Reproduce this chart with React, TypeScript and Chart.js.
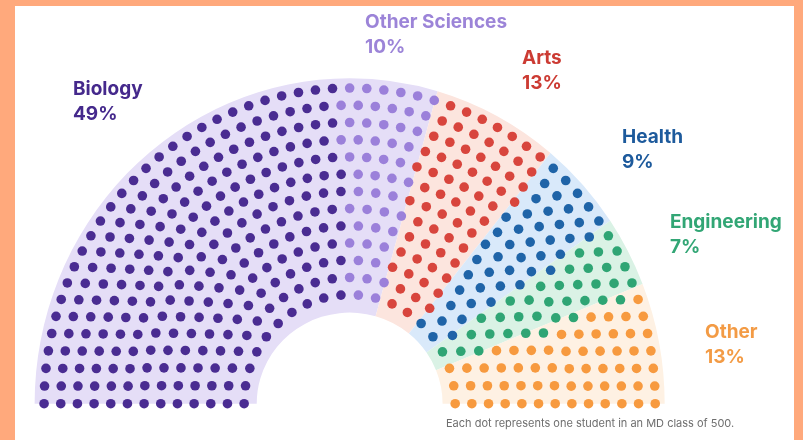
import React, { useEffect, useRef } from "react";
import { Chart, registerables } from "chart.js";
Chart.register(...registerables);

// ---------- data ----------
const categories = ["Biology", "Other Sciences", "Arts", "Health", "Engineering", "Other"];
const percentLabels = ["49%", "10%", "13%", "9%", "7%", "13%"];
const studentCounts = [245, 50, 65, 45, 35, 60];
const footnote = "Each dot represents one student in an MD class of 500.";

// ---------- styles ----------
const dotColors = ["#4A2C92", "#9B80DA", "#D8453D", "#1F64A8", "#2FA574", "#F79A3F"];
const wedgeColors = ["#E5DEF7", "#E5DEF7", "#FCE5DE", "#D9E9FA", "#DAF2E5", "#FEF1E3"];
const labelColors = ["#45298C", "#9C84D8", "#CC3B33", "#1D5A9C", "#32A675", "#F39B45"];
const labelPositions = [
  { left: 73, top: 76 },
  { left: 365, top: 9 },
  { left: 522, top: 45 },
  { left: 622, top: 124 },
  { left: 670, top: 209 },
  { left: 705, top: 319 },
];

const W = 803;
const H = 440;
const CX = 349;
const CY = 408;
const RX = 319;
const RY = 333;

const ROW_COUNT = 13;
const INNER_ROW = 0.335;
const OUTER_ROW = 0.97;
const HOLE_RADIUS_X = 0.295;
const HOLE_RADIUS_Y = 0.28;
const OUTER_RADIUS = 1;

function buildSeats(counts: number[]) {
  const total = counts.reduce((a, b) => a + b, 0);
  const radii = Array.from(
    { length: ROW_COUNT },
    (_, i) => INNER_ROW + ((OUTER_ROW - INNER_ROW) * i) / (ROW_COUNT - 1)
  );
  const sumR = radii.reduce((a, b) => a + b, 0);
  const raw = radii.map((r) => (total * r) / sumR);
  const perRow = raw.map((v) => Math.floor(v));
  const left = total - perRow.reduce((a, b) => a + b, 0);
  const order = raw
    .map((v, i) => ({ i, f: v - Math.floor(v) }))
    .sort((a, b) => b.f - a.f);
  for (let k = 0; k < left; k++) perRow[order[k].i]++;
  const seats: { x: number; y: number; a: number; row: number }[] = [];
  radii.forEach((r, i) => {
    const n = perRow[i];
    for (let j = 0; j < n; j++) {
      const a = Math.PI * (1 - j / (n - 1));
      seats.push({ x: r * Math.cos(a), y: r * Math.sin(a), a, row: i });
    }
  });
  seats.sort((p, q) => q.a - p.a || p.row - q.row);
  const groups: { x: number; y: number }[][] = [];
  let s = 0;
  counts.forEach((c) => {
    groups.push(seats.slice(s, s + c).map((p) => ({ x: p.x, y: p.y })));
    s += c;
  });
  return groups;
}

const wedgePlugin = {
  id: "wedges",
  beforeDatasetsDraw(chart: any) {
    const { ctx } = chart;
    const xs = chart.scales.x;
    const ys = chart.scales.y;
    const cx = xs.getPixelForValue(0);
    const cy = ys.getPixelForValue(0);
    const rox = xs.getPixelForValue(OUTER_RADIUS) - cx;
    const roy = cy - ys.getPixelForValue(OUTER_RADIUS);
    const rix = xs.getPixelForValue(HOLE_RADIUS_X) - cx;
    const riy = cy - ys.getPixelForValue(HOLE_RADIUS_Y);
    const total = studentCounts.reduce((a, b) => a + b, 0);
    const spans: { a0: number; a1: number; color: string }[] = [];
    let cum = 0;
    studentCounts.forEach((c, i) => {
      const a0 = Math.PI * (1 - cum / total);
      cum += c;
      const a1 = Math.PI * (1 - cum / total);
      const last = spans[spans.length - 1];
      if (last && last.color === wedgeColors[i]) last.a1 = a1;
      else spans.push({ a0, a1, color: wedgeColors[i] });
    });
    spans.forEach((sp) => {
      ctx.save();
      ctx.beginPath();
      ctx.ellipse(cx, cy, rox, roy, 0, -sp.a0, -sp.a1, false);
      ctx.ellipse(cx, cy, rix, riy, 0, -sp.a1, -sp.a0, true);
      ctx.closePath();
      ctx.fillStyle = sp.color;
      ctx.fill();
      ctx.restore();
    });
  },
};

export default function App() {
  const canvasRef = useRef<HTMLCanvasElement | null>(null);

  useEffect(() => {
    if (!canvasRef.current) return;
    const groups = buildSeats(studentCounts);
    const chart = new Chart(canvasRef.current, {
      type: "scatter",
      data: {
        datasets: categories.map((name, i) => ({
          label: name,
          data: groups[i],
          pointRadius: 4.8,
          pointHoverRadius: 5,
          pointBackgroundColor: dotColors[i],
          pointBorderWidth: 0,
          borderColor: dotColors[i],
          backgroundColor: dotColors[i],
        })),
      },
      options: {
        animation: false,
        responsive: false,
        maintainAspectRatio: false,
        layout: { padding: 0 },
        plugins: {
          legend: { display: false },
          tooltip: { enabled: false },
        },
        scales: {
          x: { type: "linear", display: false, min: -CX / RX, max: (W - CX) / RX },
          y: { type: "linear", display: false, min: -(H - CY) / RY, max: CY / RY },
        },
      },
      plugins: [wedgePlugin],
    });
    return () => chart.destroy();
  }, []);

  const font = "Inter, 'DejaVu Sans', sans-serif";

  return (
    <div
      style={{
        position: "absolute",
        left: 0,
        top: 0,
        width: W,
        height: H,
        background: "#FFA97C",
        overflow: "hidden",
        fontFamily: font,
      }}
    >
      <div
        style={{
          position: "absolute",
          left: 15,
          top: 6,
          width: 779,
          height: H - 6,
          background: "#FFFFFF",
        }}
      />
      <canvas
        ref={canvasRef}
        width={W}
        height={H}
        style={{ position: "absolute", left: 0, top: 0, width: W, height: H }}
      />
      {categories.map((name, i) => (
        <div
          key={name}
          style={{
            position: "absolute",
            left: labelPositions[i].left,
            top: labelPositions[i].top,
            color: labelColors[i],
            fontWeight: 700,
            fontSize: 19,
            lineHeight: "25px",
            whiteSpace: "nowrap",
          }}
        >
          <div>{name}</div>
          <div>{percentLabels[i]}</div>
        </div>
      ))}
      <div
        style={{
          position: "absolute",
          left: 446,
          top: 416,
          color: "#6E6E6E",
          fontSize: 11,
          lineHeight: "14px",
          whiteSpace: "nowrap",
        }}
      >
        {footnote}
      </div>
    </div>
  );
}
